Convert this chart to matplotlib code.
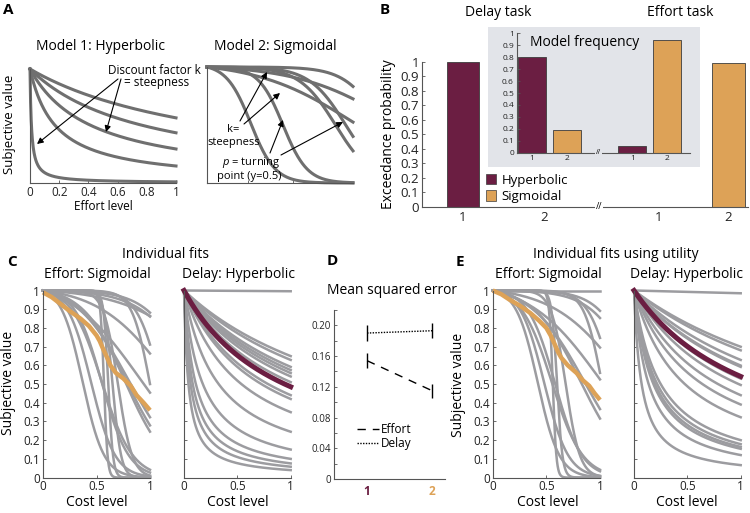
import numpy as np
import matplotlib.pyplot as plt
from matplotlib.patches import Patch

plt.rcParams['font.family'] = ['Open Sans', 'DejaVu Sans']
plt.rcParams['mathtext.fontset'] = 'custom'
plt.rcParams['mathtext.it'] = 'Open Sans:italic'
plt.rcParams['mathtext.rm'] = 'Open Sans'

# ---- data ----
# panel A: illustration parameters
hyp_k_demo = [0.75, 1.27, 2.35, 5.7, 100]
sig_k_demo = [12, 12, 8, 8, 3, 3, 8]
sig_p_demo = [0.30, 0.52, 0.88, 0.95, 1.0, 1.3, 1.2]

# panel B: exceedance probability and model frequency
bar_labels = ['1', '2', '1', '2']
exceedance = [1.0, 0.002, 0.002, 0.99]
model_freq = [0.80, 0.19, 0.055, 0.94]
legend_names = ['Hyperbolic', 'Sigmoidal']

# panel C: individual fits (sigmoid k, p for effort; hyperbolic k for delay)
c_eff_k = [5, 4, 2.5, 9, 3, 12, 3, 4, 4.5, 5, 60, 45, 25, 10, 9, 7, 8, 15]
c_eff_p = [1.4, 1.45, 1.7, 1.1, 1.2, 1.0, 0.9, 0.8, 0.78, 0.77, 0.57, 0.61,
           0.65, 0.37, 0.45, 0.55, 0.55, 0.7]
c_eff_mean_x = [0, 0.08, 0.16, 0.25, 0.35, 0.43, 0.5, 0.53, 0.56, 0.6, 0.63, 0.68,
                0.75, 0.82, 0.875, 0.94, 1.0]
c_eff_mean_y = [0.99, 0.965, 0.93, 0.89, 0.85, 0.81, 0.76, 0.73, 0.69, 0.64, 0.60, 0.56,
                0.53, 0.49, 0.44, 0.40, 0.36]
c_del_k = [0.004, 0.54, 0.59, 0.69, 0.74, 0.79, 0.85, 0.96, 1.27, 1.38,
           1.86, 3.08, 5.67, 9, 12.2, 16.2, 24]
c_del_mean_k = 1.06

# panel D: mean squared error
mse_models = [1, 2]
mse_effort = [0.154, 0.115]
mse_effort_err = [0.010, 0.009]
mse_delay = [0.190, 0.193]
mse_delay_err = [0.011, 0.010]

# panel E: individual fits using utility
e_eff_k = [5, 6, 5, 9, 3, 12, 3, 4.5, 4, 60, 40, 10, 9, 7, 8, 15]
e_eff_p = [3.0, 1.35, 1.35, 1.12, 1.25, 1.02, 1.0, 0.82, 0.85, 0.56, 0.6,
           0.42, 0.48, 0.55, 0.58, 0.68]
e_eff_mean_x = [0, 0.08, 0.16, 0.25, 0.35, 0.43, 0.5, 0.54, 0.58, 0.61, 0.64, 0.7,
                0.78, 0.84, 0.9, 0.95, 1.0]
e_eff_mean_y = [1.0, 0.98, 0.95, 0.92, 0.88, 0.84, 0.80, 0.76, 0.71, 0.67, 0.64, 0.60,
                0.56, 0.52, 0.49, 0.45, 0.415]
e_del_k = [0.015, 0.43, 0.47, 0.59, 0.67, 0.69, 0.89, 1.02, 1.27, 1.56,
           2.1, 4.0, 4.6, 5.1, 5.5, 7.3, 14]
e_del_mean_k = 0.85

maroon = '#6b1e42'
orange = '#dda257'
gray = '#9c9ca0'
dgray = '#6f6f6f'

W, H = 750, 513
fig = plt.figure(figsize=(7.5, 5.13), dpi=100)


def ax_px(x0, y0, x1, y1):
    return fig.add_axes([x0 / W, 1 - y1 / H, (x1 - x0) / W, (y1 - y0) / H])


def ftext(x, y, s, **kw):
    kw.setdefault('ha', 'center')
    kw.setdefault('va', 'center')
    fig.text(x / W, 1 - y / H, s, **kw)


def arrow(x0, y0, x1, y1):
    fig.add_artist(plt.Annotation('', xy=(x1 / W, 1 - y1 / H), xytext=(x0 / W, 1 - y0 / H),
                                  xycoords='figure fraction', textcoords='figure fraction',
                                  arrowprops=dict(arrowstyle='-|>', color='k', lw=0.8,
                                                  mutation_scale=9, shrinkA=0, shrinkB=0)))


def hyper(x, k):
    return 1.0 / (1.0 + k * x)


def sigm(x, k, p):
    s = 1.0 / (1.0 + np.exp(-k * (x - p)))
    s0 = 1.0 / (1.0 + np.exp(k * p))
    return 1.0 - (s - s0) / (1.0 - s0)


def style(ax, labelsize=8.5):
    ax.spines['top'].set_visible(False)
    ax.spines['right'].set_visible(False)
    for s in ['left', 'bottom']:
        ax.spines[s].set_color('#555555')
        ax.spines[s].set_linewidth(0.8)
    ax.tick_params(direction='in', length=2, width=0.6, colors='#555555',
                   labelcolor='#222222', labelsize=labelsize, pad=2)
    ax.patch.set_alpha(0)


xs = np.linspace(0, 1, 500)

# ---- panel A ----
axA1 = ax_px(30, 69, 176, 183)
for k in hyp_k_demo:
    axA1.plot(xs, hyper(xs, k), color=dgray, lw=2.2, clip_on=False)
axA1.set_xlim(0, 1)
axA1.set_ylim(0, 1)
axA1.set_xticks([0, 0.2, 0.4, 0.6, 0.8, 1], ['0', '0.2', '0.4', '0.6', '0.8', '1'])
axA1.set_yticks([])
style(axA1, 8.5)

axA2 = ax_px(207, 67, 353, 183)
for k, p in zip(sig_k_demo, sig_p_demo):
    axA2.plot(xs, sigm(xs, k, p), color=dgray, lw=2.2, clip_on=False)
axA2.set_xlim(0, 1)
axA2.set_ylim(0, 1)
axA2.set_xticks([0.28, 0.59], ['', ''])
axA2.set_yticks([])
style(axA2)

ftext(8, 10, 'A', fontsize=11, fontweight='bold')
ftext(100, 46, 'Model 1: Hyperbolic', fontsize=10)
ftext(275, 46, 'Model 2: Sigmoidal', fontsize=10)
ftext(10, 124, 'Subjective value', fontsize=9.5, rotation=90)
ftext(103, 207, 'Effort level', fontsize=8.5)
ftext(154, 71, 'Discount factor k', fontsize=8.5)
ftext(157, 83, '= steepness', fontsize=8.5)
arrow(118, 79, 37, 144)
arrow(121, 79, 106, 132)
ftext(233, 129, 'k=', fontsize=8)
ftext(234, 142, 'steepness', fontsize=8)
ftext(251, 163, '$p$ = turning', fontsize=8)
ftext(249, 177, 'point (y=0.5)', fontsize=8)
arrow(240, 121, 267, 72)
arrow(244, 124, 280, 93)
arrow(270, 153, 283, 120)
arrow(281, 155, 343, 122)

# ---- panel B ----
b_pos = [1, 2, 3.4, 4.25]
bar_cols = [maroon, orange, maroon, orange]
axB = ax_px(421.7, 62, 748, 207)
axB.bar(b_pos, exceedance, width=0.4, color=bar_cols, edgecolor='#3c3c3c', lw=0.6)
axB.set_xlim(0.496, 4.49)
axB.set_ylim(0, 1)
axB.set_yticks(np.arange(0, 1.01, 0.1), ['0'] + ['%.1f' % v for v in np.arange(0.1, 0.95, 0.1)] + ['1'])
axB.set_xticks(b_pos, bar_labels)
style(axB, 9.5)
axB.tick_params(axis='x', length=0, pad=3)
axB.set_ylabel('Exceedance probability', fontsize=10, labelpad=3)
axB.text(2.67, 0, '//', ha='center', va='center', fontsize=6.5,
         bbox=dict(facecolor='white', edgecolor='none', pad=0.5))
axB.legend(handles=[Patch(facecolor=maroon, edgecolor='#3c3c3c', lw=0.5, label=legend_names[0]),
                    Patch(facecolor=orange, edgecolor='#3c3c3c', lw=0.5, label=legend_names[1])],
           loc='center left', bbox_to_anchor=(0.196, 0.128), frameon=False, fontsize=9.5,
           handlelength=0.8, handleheight=0.8, handletextpad=0.4, labelspacing=0.25,
           borderpad=0, borderaxespad=0)

axBg = ax_px(488, 27, 700, 167)
axBg.set_facecolor('#e2e4e9')
axBg.set_xticks([])
axBg.set_yticks([])
for s in axBg.spines.values():
    s.set_visible(False)

i_pos = [1, 2, 3.86, 4.86]
axI = ax_px(516.7, 33.3, 690, 152.7)
axI.bar(i_pos, model_freq, width=0.8, color=bar_cols, edgecolor='#3c3c3c', lw=0.6)
axI.set_xlim(0.56, 5.51)
axI.set_ylim(0, 1)
axI.set_yticks(np.arange(0, 1.01, 0.1), ['0'] + ['%.1f' % v for v in np.arange(0.1, 0.95, 0.1)] + ['1'])
axI.set_xticks(i_pos, bar_labels)
style(axI, 6)
axI.tick_params(axis='x', length=0, pad=2)
axI.text(2.89, 0, '//', ha='center', va='center', fontsize=5,
         bbox=dict(facecolor='#e2e4e9', edgecolor='none', pad=0.5))

ftext(385, 10, 'B', fontsize=11, fontweight='bold')
ftext(498, 12, 'Delay task', fontsize=10)
ftext(680, 12, 'Effort task', fontsize=10)
ftext(585, 43, 'Model frequency', fontsize=10)


# ---- panels C and E ----
def curve_axes(x0, x1, labels):
    ax = ax_px(x0, 290.5, x1, 477.6)
    ax.set_xlim(0, 1)
    ax.set_ylim(0, 1)
    ax.set_xticks([0, 0.5, 1], ['0', '0.5', '1'])
    yt = np.arange(0, 1.01, 0.1)
    if labels:
        ax.set_yticks(yt, ['0'] + ['%.1f' % v for v in yt[1:-1]] + ['1'])
    else:
        ax.set_yticks(yt, [''] * len(yt))
    style(ax, 8.5)
    return ax


axC1 = curve_axes(43, 150, True)
for k, p in zip(c_eff_k, c_eff_p):
    axC1.plot(xs, sigm(xs, k, p), color=gray, lw=1.8, clip_on=False)
axC1.plot(c_eff_mean_x, c_eff_mean_y, color=orange, lw=3.2, clip_on=False,
          solid_capstyle='butt', solid_joinstyle='round')

axC2 = curve_axes(184, 290.7, False)
for k in c_del_k:
    axC2.plot(xs, hyper(xs, k), color=gray, lw=1.8, clip_on=False)
axC2.plot(xs, hyper(xs, c_del_mean_k), color=maroon, lw=3.6, clip_on=False)

axE1 = curve_axes(492.7, 600, True)
for k, p in zip(e_eff_k, e_eff_p):
    axE1.plot(xs, sigm(xs, k, p), color=gray, lw=1.8, clip_on=False)
axE1.plot(e_eff_mean_x, e_eff_mean_y, color=orange, lw=3.2, clip_on=False,
          solid_capstyle='butt', solid_joinstyle='round')

axE2 = curve_axes(634, 740.7, False)
for k in e_del_k:
    axE2.plot(xs, hyper(xs, k), color=gray, lw=1.8, clip_on=False)
axE2.plot(xs, hyper(xs, e_del_mean_k), color=maroon, lw=3.6, clip_on=False)

ftext(12, 262, 'C', fontsize=11, fontweight='bold')
ftext(165, 255, 'Individual fits', fontsize=10)
ftext(97, 275, 'Effort: Sigmoidal', fontsize=10)
ftext(238, 275, 'Delay: Hyperbolic', fontsize=10)
ftext(9, 383, 'Subjective value', fontsize=10, rotation=90)
ftext(97, 503, 'Cost level', fontsize=10)
ftext(238, 503, 'Cost level', fontsize=10)

ftext(460, 262, 'E', fontsize=11, fontweight='bold')
ftext(616, 255, 'Individual fits using utility', fontsize=10)
ftext(548, 275, 'Effort: Sigmoidal', fontsize=10)
ftext(687, 275, 'Delay: Hyperbolic', fontsize=10)
ftext(458, 385, 'Subjective value', fontsize=10, rotation=90)
ftext(548, 503, 'Cost level', fontsize=10)
ftext(687, 503, 'Cost level', fontsize=10)

# ---- panel D ----
axD = ax_px(334, 310, 445, 479)
axD.errorbar(mse_models, mse_effort, yerr=mse_effort_err, color='k', lw=1.0,
             ls=(0, (6, 5)), elinewidth=1.0, capsize=0, label='Effort')
axD.errorbar(mse_models, mse_delay, yerr=mse_delay_err, color='k', lw=1.0,
             ls=(0, (1, 1)), elinewidth=1.0, capsize=0, label='Delay')
axD.set_xlim(0.49, 2.2)
axD.set_ylim(0, 0.22)
axD.set_yticks([0, 0.04, 0.08, 0.12, 0.16, 0.20], ['0', '0.04', '0.08', '0.12', '0.16', '0.20'])
axD.set_yticks(np.arange(0, 0.221, 0.02), minor=True)
axD.set_xticks(mse_models, ['1', '2'])
style(axD, 7)
axD.tick_params(axis='y', which='minor', direction='in', length=2, width=0.6, colors='#555555')
axD.tick_params(axis='x', length=0, pad=4, labelsize=8.5)
for lab, c in zip(axD.get_xticklabels(), [maroon, orange]):
    lab.set_color(c)
    lab.set_fontweight('bold')
h, l = axD.get_legend_handles_labels()
axD.legend([hh[0] for hh in h], l, loc='center left', bbox_to_anchor=(0.21, 0.25),
           frameon=False, fontsize=8.5, handlelength=1.8, handletextpad=0.2,
           labelspacing=0.1, borderpad=0, borderaxespad=0)

ftext(332, 261, 'D', fontsize=11, fontweight='bold')
ftext(392, 290, 'Mean squared error', fontsize=10)

fig.savefig('out.png', dpi=100)
